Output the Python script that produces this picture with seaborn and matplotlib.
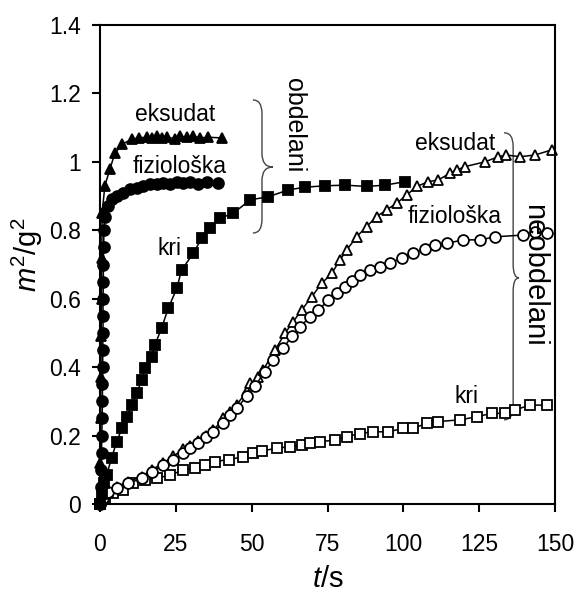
import matplotlib
matplotlib.use("Agg")
import matplotlib.pyplot as plt
from matplotlib.path import Path
from matplotlib.patches import PathPatch
import seaborn as sns
import pandas as pd

# ---- data: treated (obdelani) ----
obd_eks_t = [0, 0.1, 0.2, 0.3, 0.4, 0.5, 0.6, 0.7, 1.6, 3.3, 4.9, 7.4, 10.4, 12.7, 15.4, 17.0,
             18.7, 20.3, 22.0, 24.7, 26.5, 28.6, 30.8, 33.0, 35.7, 40.1]
obd_eks_v = [0, 0.12, 0.25, 0.37, 0.49, 0.60, 0.72, 0.85, 0.93, 0.98, 1.025, 1.052, 1.066, 1.07,
             1.072, 1.07, 1.075, 1.07, 1.072, 1.068, 1.075, 1.072, 1.075, 1.07, 1.072, 1.07]

obd_fiz_t = [0, 0.2, 0.4, 0.5, 0.6, 0.7, 0.8, 0.8, 0.9, 0.9, 1.0, 1.0, 1.0, 1.1, 1.1, 1.2, 1.3,
             1.6, 2.7, 3.8, 5.5, 7.6, 9.9, 12.2, 14.2, 16.5, 18.8, 20.8, 23.1, 25.4, 27.4, 29.7,
             32.3, 35.3, 38.9]
obd_fiz_v = [0, 0.05, 0.10, 0.15, 0.20, 0.25, 0.30, 0.35, 0.40, 0.45, 0.50, 0.55, 0.60, 0.65,
             0.70, 0.75, 0.80, 0.84, 0.87, 0.89, 0.90, 0.91, 0.92, 0.925, 0.93, 0.935, 0.935,
             0.938, 0.935, 0.94, 0.938, 0.94, 0.935, 0.94, 0.938]

obd_kri_t = [0, 0.5, 1.2, 2.2, 3.8, 5.5, 7.2, 8.8, 10.4, 12.1, 13.7, 14.8, 17.0, 18.1, 20.3,
             22.5, 25.3, 26.9, 30.8, 33.5, 36.3, 39.6, 44.0, 49.5, 55.5, 62.1, 67.6, 74.2, 80.8,
             87.9, 94.0, 100.5]
obd_kri_v = [0, 0.03, 0.06, 0.085, 0.134, 0.182, 0.221, 0.255, 0.289, 0.323, 0.362, 0.397,
             0.431, 0.465, 0.514, 0.572, 0.63, 0.684, 0.733, 0.777, 0.806, 0.835, 0.85, 0.889,
             0.898, 0.918, 0.926, 0.93, 0.932, 0.928, 0.932, 0.942]

# ---- data: untreated (neobdelani) ----
neo_eks_t = [0, 1.1, 2.7, 5.5, 9.3, 13.7, 17, 20.9, 24.2, 27.5, 29.7, 32.4, 35, 37.4, 40.6,
             43, 45.1, 48.4, 49.5, 52.2, 53.8, 57.7, 61, 63.7, 66.5, 69.8, 73.1, 76.4, 79.1,
             81.3, 84.6, 87.9, 91.2, 94.5, 97.8, 101.1, 104.4, 108.2, 111.5, 115.4, 117.6,
             120.3, 126.9, 131.3, 134, 138.5, 143.4, 148.9]
neo_eks_v = [0, 0.02, 0.036, 0.05, 0.065, 0.08, 0.1, 0.12, 0.14, 0.16, 0.17, 0.185, 0.2, 0.215,
             0.25, 0.27, 0.29, 0.33, 0.353, 0.37, 0.392, 0.45, 0.499, 0.533, 0.567, 0.606,
             0.645, 0.674, 0.713, 0.742, 0.781, 0.811, 0.84, 0.86, 0.879, 0.903, 0.928, 0.942,
             0.947, 0.967, 0.976, 0.986, 1.0, 1.015, 1.02, 1.015, 1.02, 1.035]

neo_fiz_t = [0, 1.1, 2.7, 5.5, 9.3, 13.7, 17, 20.9, 24.2, 27.5, 29.7, 32.4, 35, 37.4, 40.6, 43,
             45.1, 48.4, 51.1, 54.4, 57.1, 60.4, 63.2, 66, 69.2, 72, 75.3, 78, 80.8, 83, 85.7,
             89, 92.3, 95.6, 99.5, 103.3, 107, 110.4, 114.3, 119.8, 125.3, 130.2, 139.5, 143.4,
             147.3]
neo_fiz_v = [0, 0.017, 0.036, 0.046, 0.06, 0.075, 0.094, 0.114, 0.129, 0.148, 0.163, 0.177,
             0.195, 0.211, 0.236, 0.26, 0.28, 0.315, 0.345, 0.387, 0.42, 0.455, 0.49, 0.518,
             0.547, 0.567, 0.596, 0.616, 0.635, 0.652, 0.669, 0.684, 0.694, 0.703, 0.72, 0.735,
             0.745, 0.757, 0.762, 0.772, 0.772, 0.781, 0.786, 0.796, 0.791]

neo_kri_t = [0, 1.6, 4.4, 7.7, 11.0, 14.8, 18.7, 23.1, 27.5, 31.3, 34.6, 37.9, 42.5, 47.2, 50.5,
             53.3, 58.2, 62.6, 66.5, 69.2, 72.5, 77.5, 81.3, 85.7, 90.1, 95.0, 100.0, 103.3,
             107.7, 111.5, 118.7, 124.2, 129.1, 133.5, 136.8, 141.8, 147.3]
neo_kri_v = [0, 0.017, 0.031, 0.041, 0.06, 0.07, 0.075, 0.085, 0.099, 0.104, 0.114, 0.124,
             0.13, 0.138, 0.148, 0.155, 0.163, 0.168, 0.172, 0.177, 0.182, 0.187, 0.197, 0.206,
             0.211, 0.211, 0.221, 0.221, 0.236, 0.241, 0.246, 0.255, 0.265, 0.265, 0.275,
             0.289, 0.289]

x_ticks = [0, 25, 50, 75, 100, 125, 150]
y_ticks = [0, 0.2, 0.4, 0.6, 0.8, 1.0, 1.2, 1.4]
y_tick_labels = ["0", "0.2", "0.4", "0.6", "0.8", "1", "1.2", "1.4"]

sns.set_style("ticks")
plt.rcParams["font.family"] = ["Liberation Sans", "DejaVu Sans"]
plt.rcParams["mathtext.fontset"] = "custom"
plt.rcParams["mathtext.rm"] = "Liberation Sans"
plt.rcParams["mathtext.it"] = "Liberation Sans:italic"
for k in ["text.color", "axes.labelcolor", "xtick.color", "ytick.color", "axes.edgecolor"]:
    plt.rcParams[k] = "black"

fig = plt.figure(figsize=(5.76, 5.94), dpi=100)
ax = fig.add_axes([100 / 576, 1 - 504 / 594, 455 / 576, 479 / 594])

series = [
    (neo_kri_t, neo_kri_v, "s", "white"),
    (neo_eks_t, neo_eks_v, "^", "white"),
    (neo_fiz_t, neo_fiz_v, "o", "white"),
    (obd_kri_t, obd_kri_v, "s", "black"),
    (obd_eks_t, obd_eks_v, "^", "black"),
    (obd_fiz_t, obd_fiz_v, "o", "black"),
]
for t, v, mk, fc in series:
    df = pd.DataFrame({"t": t, "v": v})
    sns.lineplot(data=df, x="t", y="v", ax=ax, sort=False, estimator=None,
                 color="black", linewidth=1.1, marker=mk, markersize=7.8,
                 markerfacecolor=fc, markeredgecolor="black", markeredgewidth=1.3,
                 clip_on=False)

ax.set_xlim(0, 150)
ax.set_ylim(0, 1.4)
ax.set_xticks(x_ticks)
ax.set_yticks(y_ticks)
ax.set_yticklabels(y_tick_labels)
for s in ax.spines.values():
    s.set_linewidth(1.5)
    s.set_color("black")
ax.tick_params(direction="out", length=6, width=1.5, color="black", labelcolor="black")
ax.tick_params(axis="x", pad=15)
ax.tick_params(axis="y", pad=8)
for lab in ax.get_xticklabels() + ax.get_yticklabels():
    lab.set_fontsize(16.5)

ax.set_xlabel("$t$/s", fontsize=21)
ax.set_ylabel(r"$m^{2}/\mathrm{g}^{2}$", fontsize=21)
ax.xaxis.set_label_coords(0.501, -0.128)
ax.yaxis.set_label_coords(-0.121, 0.52)

txt = dict(fontsize=16.5, color="black", ha="center", va="baseline")
ax.text(24.7, 1.12, "eksudat", **txt)
ax.text(26.4, 0.968, "fiziološka", **txt)
ax.text(22.8, 0.728, "kri", **txt)
ax.text(117.2, 1.035, "eksudat", **txt)
ax.text(117.0, 0.821, "fiziološka", **txt)
ax.text(120.7, 0.295, "kri", **txt)
ax.text(63.8, 1.108, "obdelani", fontsize=18, rotation=270, ha="center", va="center")
ax.text(143.0, 0.669, "neobdelani", fontsize=21, rotation=270, ha="center", va="center")


def brace(x0, xm, xt, ytop, ymid, ybot, r):
    verts = [(x0, ytop), (xm, ytop), (xm, ytop - r), (xm, ymid + r), (xm, ymid), (xt, ymid),
             (xm, ymid), (xm, ymid - r), (xm, ybot + r), (xm, ybot), (x0, ybot)]
    codes = [Path.MOVETO, Path.CURVE3, Path.CURVE3, Path.LINETO, Path.CURVE3, Path.CURVE3,
             Path.CURVE3, Path.CURVE3, Path.LINETO, Path.CURVE3, Path.CURVE3]
    ax.add_patch(PathPatch(Path(verts, codes), fill=False, edgecolor="#444444",
                           linewidth=1.0, clip_on=False))


brace(50.4, 53.4, 57.0, 1.181, 0.985, 0.792, 0.04)
brace(133.2, 136.2, 138.1, 1.085, 0.661, 0.246, 0.04)

fig.savefig("out.png", dpi=100)
